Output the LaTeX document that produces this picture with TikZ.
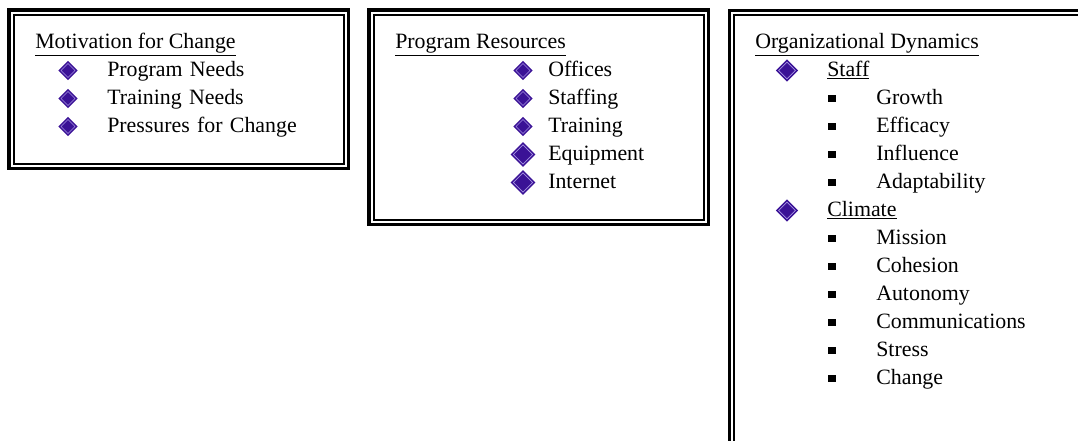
\documentclass[tikz,border=0pt]{standalone}
\usepackage{fontspec}
\setmainfont{Liberation Serif}
\usetikzlibrary{positioning, shapes.geometric}
\definecolor{bulpurple}{RGB}{58,18,150}
\definecolor{bullilac}{RGB}{165,145,225}

\begin{document}
\begin{tikzpicture}[
		x=0.75pt, y=-0.75pt,
		on grid, node distance=21pt,
		outerframe/.style={draw, line width=2.5pt},
		innerframe/.style={draw, line width=1.5pt},
		heading/.style={anchor=base west, inner sep=0pt, font=\fontsize{16.4}{20}\selectfont},
		item/.style={text width=#1, align=left, inner sep=0pt, text height=12pt, text depth=3pt, font=\fontsize{16.4}{20}\selectfont},
		item/.default=150pt,
		gem/.style={diamond, inner sep=0pt, minimum width=#1, minimum height=#1, fill=bulpurple, draw=bulpurple, line width=1.2pt, double=bullilac, double distance=0.5pt},
		gem/.default=11pt,
		sq/.style={rectangle, fill=black, inner sep=0pt, minimum size=5.5pt}
	]

	\useasboundingbox (0,0) rectangle (1078,440);

	% Frames
	\draw[outerframe] (9,10) rectangle (348.7,168.3);
	\draw[innerframe] (13.5,14.5) rectangle (344.2,163.8);
	\draw[outerframe] (369,10) rectangle (708.7,224.7);
	\draw[innerframe] (373.5,14.5) rectangle (704.2,220.2);
	\draw[outerframe] (729.3,10.5) rectangle (1100,470);
	\draw[innerframe] (733.8,15) rectangle (1095,465);

	% Motivation for Change
	\node[heading] (motiv) at (35,48.5) {\underline{Motivation for Change}};
	\node[item=200pt, anchor=west] (needs) at (107,70.5) {Program Needs};
	\node[item=200pt, below=of needs] (trainneeds) {Training Needs};
	\node[item=200pt, below=of trainneeds] (pressure) {Pressures for Change};
	\node[gem, left=29.25pt of needs.west, anchor=center] (mb1) {};
	\node[gem, left=29.25pt of trainneeds.west, anchor=center] (mb2) {};
	\node[gem, left=29.25pt of pressure.west, anchor=center] (mb3) {};

	% Program Resources
	\node[heading] (resources) at (395,48.5) {\underline{Program Resources}};
	\node[item=120pt, anchor=west] (offices) at (548,70.5) {Offices};
	\node[item=120pt, below=of offices] (staffing) {Staffing};
	\node[item=120pt, below=of staffing] (training) {Training};
	\node[item=120pt, below=of training] (equipment) {Equipment};
	\node[item=120pt, below=of equipment] (internet) {Internet};
	\node[gem, left=18.75pt of offices.west, anchor=center] (rb1) {};
	\node[gem, left=18.75pt of staffing.west, anchor=center] (rb2) {};
	\node[gem, left=18.75pt of training.west, anchor=center] (rb3) {};
	\node[gem=15pt, left=18.75pt of equipment.west, anchor=center] (rb4) {};
	\node[gem=15pt, left=18.75pt of internet.west, anchor=center] (rb5) {};

	% Organizational Dynamics
	\node[heading] (dynamics) at (755,48.5) {\underline{Organizational Dynamics}};
	\node[item, anchor=west] (staff) at (827,70.5) {\underline{Staff}};
	\node[item, below right=21pt and 36.75pt of staff] (growth) {Growth};
	\node[item, below=of growth] (efficacy) {Efficacy};
	\node[item, below=of efficacy] (influence) {Influence};
	\node[item, below=of influence] (adapt) {Adaptability};
	\node[item, below left=21pt and 36.75pt of adapt] (climate) {\underline{Climate}};
	\node[item, below right=21pt and 36.75pt of climate] (mission) {Mission};
	\node[item, below=of mission] (cohesion) {Cohesion};
	\node[item, below=of cohesion] (autonomy) {Autonomy};
	\node[item, below=of autonomy] (comms) {Communications};
	\node[item, below=of comms] (stress) {Stress};
	\node[item, below=of stress] (change) {Change};

	\node[gem=13pt, left=30pt of staff.west, anchor=center] (db1) {};
	\node[gem=13pt, left=30pt of climate.west, anchor=center] (db2) {};
	\node[sq, left=33pt of growth.west, anchor=center] (sq1) {};
	\node[sq, left=33pt of efficacy.west, anchor=center] (sq2) {};
	\node[sq, left=33pt of influence.west, anchor=center] (sq3) {};
	\node[sq, left=33pt of adapt.west, anchor=center] (sq4) {};
	\node[sq, left=33pt of mission.west, anchor=center] (sq5) {};
	\node[sq, left=33pt of cohesion.west, anchor=center] (sq6) {};
	\node[sq, left=33pt of autonomy.west, anchor=center] (sq7) {};
	\node[sq, left=33pt of comms.west, anchor=center] (sq8) {};
	\node[sq, left=33pt of stress.west, anchor=center] (sq9) {};
	\node[sq, left=33pt of change.west, anchor=center] (sq10) {};

\end{tikzpicture}
\end{document}
